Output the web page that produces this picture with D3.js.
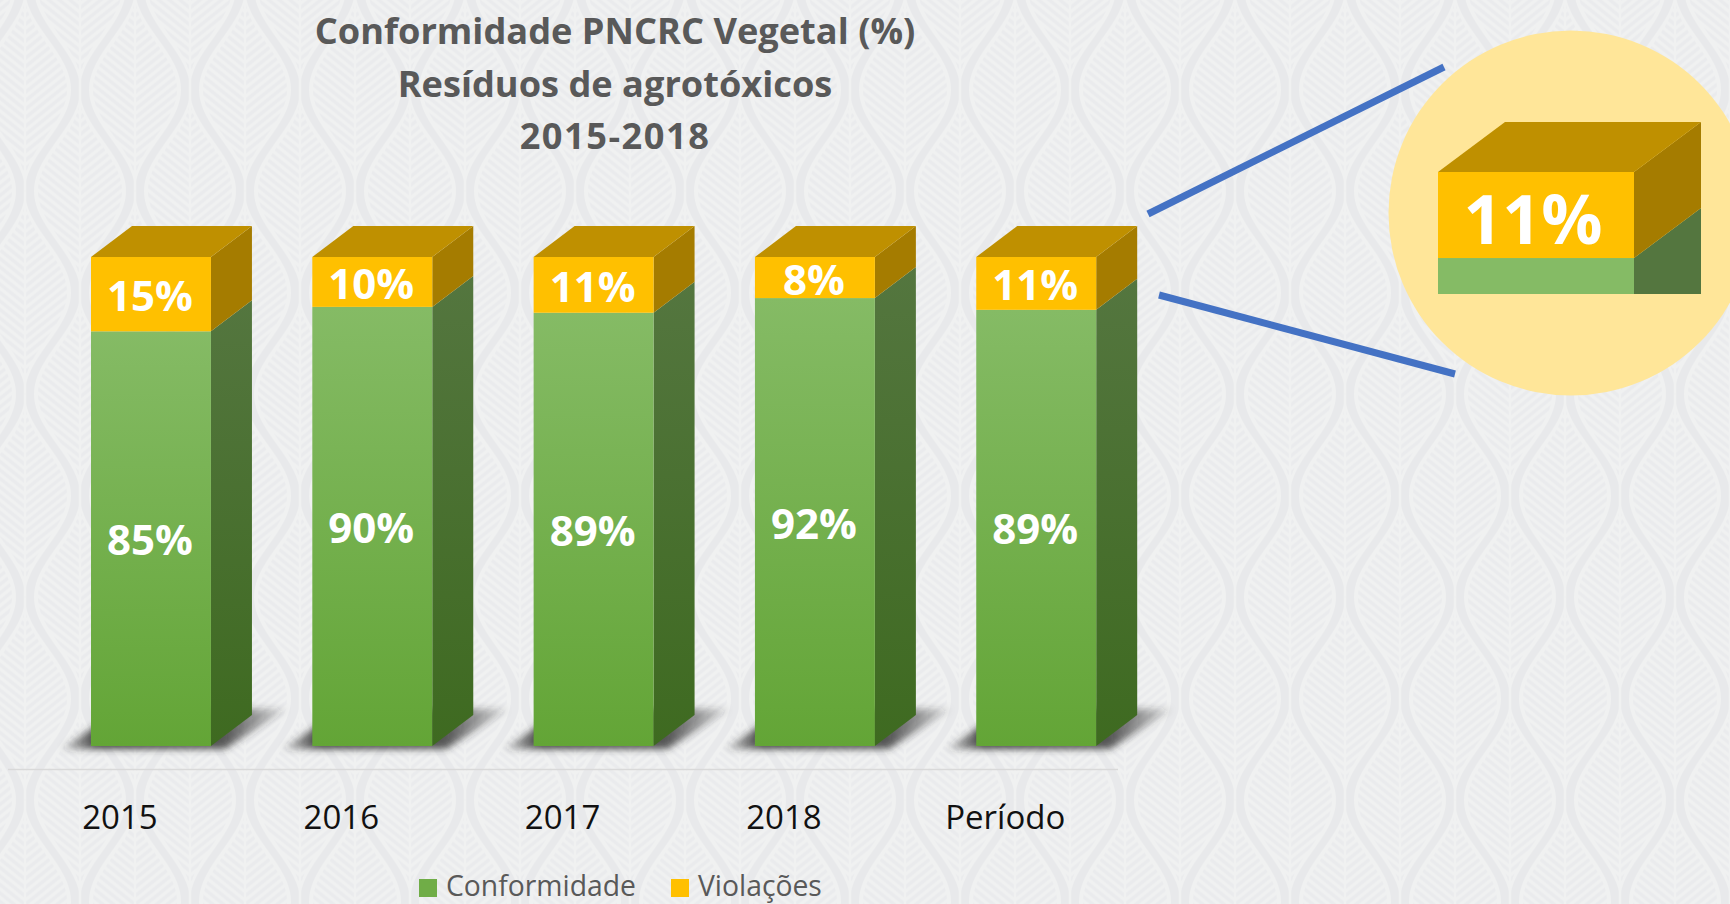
<!DOCTYPE html>
<html>
<head>
<meta charset="utf-8">
<title>Conformidade PNCRC Vegetal</title>
<script src="https://cdn.jsdelivr.net/npm/d3@7"></script>
<style>
  html, body { margin: 0; padding: 0; background: #edeeef; overflow: hidden; }
  svg { display: block; font-family: "Open Sans", sans-serif; }
</style>
</head>
<body>
<div id="chart"></div>
<script>
/*  Data  */
var categories = ["2015", "2016", "2017", "2018", "Período"];
var conformidade = [84.8, 89.8, 88.6, 91.6, 89.2];
var violacoes = [15.2, 10.2, 11.4, 8.4, 10.8];
var titleLines = ["Conformidade PNCRC Vegetal (%)", "Resíduos de agrotóxicos", "2015-2018"];
var legendNames = ["Conformidade", "Violações"];
var detailLabel = "11%";
var detailViolacoes = 11;
var detailConformidade = 4.6;   // only the top of the green part shows in the zoomed box

var W = 1730, H = 904;
var depthX = 41, depthY = 31;
var pct = d3.format(".0%");

var svg = d3.select("#chart").append("svg").attr("width", W).attr("height", H);
var defs = svg.append("defs");

/*  Wallpaper pattern: staggered leaves on a slightly darker ground  */
var tileW = 110, tileH = 203;
var leafLine = d3.line().curve(d3.curveLinear);
function leafOutline(maxW, len) {
  var ys = d3.range(-len, len + 1, 3);
  var right = ys.map(function(v) { return [maxW / 2 * (1 + Math.cos(Math.PI * v / len)), v]; });
  var left = ys.slice().reverse().map(function(v) { return [-maxW / 2 * (1 + Math.cos(Math.PI * v / len)), v]; });
  return leafLine(right.concat(left)) + "Z";
}
var leafPath = leafOutline(46, tileH / 2);
defs.append("clipPath").attr("id", "leafClip").append("path").attr("d", leafOutline(42, tileH / 2 - 8));

var tile = defs.append("pattern")
  .attr("id", "wall")
  .attr("patternUnits", "userSpaceOnUse")
  .attr("width", tileW)
  .attr("height", tileH)
  .attr("patternTransform", "translate(25,89.5)");
tile.append("rect").attr("width", tileW).attr("height", tileH).attr("fill", "#e8e9eb");

function addLeaf(cx, cy) {
  var g = tile.append("g").attr("transform", "translate(" + cx + "," + cy + ")");
  g.append("path").attr("d", leafPath).attr("fill", "#f0f1f1");
  var veins = g.append("g").attr("clip-path", "url(#leafClip)");
  d3.range(-150, 150, 8.5).forEach(function(v) {
    veins.append("path")
      .attr("d", "M-60," + (v - 48) + " L0," + v + " L60," + (v - 48))
      .attr("fill", "none")
      .attr("stroke", "#eaebed")
      .attr("stroke-width", 3.4);
  });
  g.append("line").attr("x1", 0).attr("x2", 0).attr("y1", -tileH / 2).attr("y2", tileH / 2)
    .attr("stroke", "#f0f1f1").attr("stroke-width", 2.5);
}
[[0, 0], [tileW, 0], [0, tileH], [tileW, tileH],
 [tileW / 2, tileH / 2], [tileW / 2, -tileH / 2], [tileW / 2, tileH * 1.5]].forEach(function(p) {
  addLeaf(p[0], p[1]);
});

svg.append("rect").attr("width", W).attr("height", H).attr("fill", "url(#wall)");

/*  Gradients and shadow blur  */
function vGradient(id, from, to) {
  var g = defs.append("linearGradient").attr("id", id)
    .attr("x1", 0).attr("y1", 0).attr("x2", 0).attr("y2", 1);
  g.append("stop").attr("offset", "0%").attr("stop-color", from);
  g.append("stop").attr("offset", "100%").attr("stop-color", to);
}
vGradient("greenFront", "#85bb65", "#63a536");
vGradient("greenSide", "#54763f", "#3e6a20");

var shadowFill = defs.append("linearGradient").attr("id", "shadowFill")
  .attr("x1", 0).attr("y1", 0).attr("x2", 1).attr("y2", 0);
[[0, 0.15], [0.16, 0.9], [0.72, 0.8], [1, 0.1]].forEach(function(s) {
  shadowFill.append("stop").attr("offset", s[0]).attr("stop-color", "#2f2f2f").attr("stop-opacity", s[1]);
});

defs.append("filter").attr("id", "blur")
  .attr("x", "-20%").attr("y", "-40%").attr("width", "140%").attr("height", "180%")
  .append("feGaussianBlur").attr("stdDeviation", 3.6);

/*  Scales  */
var x = d3.scaleBand().domain(categories).range([91, 1096.2]).paddingInner(0.458).paddingOuter(0);
var y = d3.scaleLinear().domain([0, 100]).range([746, 257]);

/*  3D box pieces  */
function sidePoints(x1, yTop, yBottom, dx, dy) {
  return [[x1, yTop], [x1 + dx, yTop - dy], [x1 + dx, yBottom - dy], [x1, yBottom]].join(" ");
}
function topPoints(x0, x1, yTop, dx, dy) {
  return [[x0, yTop], [x0 + dx, yTop - dy], [x1 + dx, yTop - dy], [x1, yTop]].join(" ");
}
function drawBox(g, x0, w, yBase, yMid, yTop, dx, dy) {
  var x1 = x0 + w;
  g.append("polygon").attr("points", sidePoints(x1, yMid, yBase, dx, dy)).attr("fill", "url(#greenSide)");
  g.append("polygon").attr("points", sidePoints(x1, yTop, yMid, dx, dy)).attr("fill", "#a57c00");
  g.append("polygon").attr("points", topPoints(x0, x1, yTop, dx, dy)).attr("fill", "#bf9000");
  g.append("rect").attr("x", x0).attr("y", yMid).attr("width", w).attr("height", yBase - yMid).attr("fill", "url(#greenFront)");
  g.append("rect").attr("x", x0).attr("y", yTop).attr("width", w).attr("height", yMid - yTop).attr("fill", "#ffc000");
}

/*  Bars  */
categories.forEach(function(cat, i) {
  var x0 = x(cat), w = x.bandwidth();
  var g = svg.append("g").attr("class", "bar");

  // floor shadow
  g.append("polygon")
    .attr("points", [[x0 - 30, y(0) + 3], [x0 + w + 14, y(0) + 3], [x0 + w + 76, y(0) - 37], [x0 + 30, y(0) - 37]].join(" "))
    .attr("fill", "url(#shadowFill)")
    .attr("filter", "url(#blur)");

  var yMid = y(conformidade[i]);
  var yTop = y(conformidade[i] + violacoes[i]);
  drawBox(g, x0, w, y(0), yMid, yTop, depthX, depthY);

  g.append("text").attr("x", x0 + w / 2 - 1).attr("y", (yTop + yMid) / 2 + 0.5)
    .attr("text-anchor", "middle").attr("dominant-baseline", "central")
    .attr("fill", "#fff").attr("font-weight", 700).attr("font-size", 42)
    .text(pct(violacoes[i] / 100));
  g.append("text").attr("x", x0 + w / 2 - 1).attr("y", (y(0) + yMid) / 2)
    .attr("text-anchor", "middle").attr("dominant-baseline", "central")
    .attr("fill", "#fff").attr("font-weight", 700).attr("font-size", 42)
    .text(pct(conformidade[i] / 100));
});

/*  Axis: the labels sit left of the front faces, like in the 3D original  */
svg.append("line").attr("x1", 8).attr("x2", 1118).attr("y1", 769.5).attr("y2", 769.5)
  .attr("stroke", "#d9d9d9").attr("stroke-width", 1.5);

var axisG = svg.append("g")
  .attr("transform", "translate(-31,806)")
  .call(d3.axisBottom(x).tickSize(0).tickPadding(0));
axisG.select(".domain").remove();
axisG.selectAll("text")
  .attr("font-family", "'Open Sans', sans-serif")
  .attr("font-size", 33)
  .attr("fill", "#111")
  .attr("y", 0)
  .attr("dy", "0.71em");

/*  Title  */
svg.append("g").selectAll("text").data(titleLines).join("text")
  .attr("x", 615)
  .attr("y", function(d, i) { return 44 + i * 52.5; })
  .attr("text-anchor", "middle")
  .attr("font-weight", 700)
  .attr("font-size", 36.2)
  .attr("letter-spacing", function(d, i) { return i === 2 ? 1.5 : 0; })
  .attr("fill", "#595959")
  .text(function(d) { return d; });

/*  Legend  */
var legendX = d3.scaleOrdinal().domain(legendNames).range([419, 671]);
var legendColor = d3.scaleOrdinal().domain(legendNames).range(["#70ad47", "#ffc000"]);
var legend = svg.append("g").selectAll("g").data(legendNames).join("g")
  .attr("transform", function(d) { return "translate(" + legendX(d) + ",0)"; });
legend.append("rect").attr("y", 879).attr("width", 18).attr("height", 18)
  .attr("fill", function(d) { return legendColor(d); });
legend.append("text").attr("x", 27).attr("y", 895.5)
  .attr("font-size", 28.3).attr("fill", "#595959")
  .text(function(d) { return d; });

/*  Zoomed detail on the right  */
var detail = svg.append("g");
detail.append("circle").attr("cx", 1571).attr("cy", 213).attr("r", 182.5).attr("fill", "#ffe699");

var detailY = d3.scaleLinear().domain([100 - detailViolacoes - detailConformidade, 100]).range([294, 172]);
var detailX0 = 1438, detailW = 196;
drawBox(detail, detailX0, detailW, detailY(100 - detailViolacoes - detailConformidade),
  detailY(100 - detailViolacoes), detailY(100), 67, 50);
detail.selectAll("polygon").filter(function(d, i) { return i === 0; }).attr("fill", "#54763f")
  .attr("points", [[detailX0 + detailW, detailY(100 - detailViolacoes)],
                   [detailX0 + detailW + 67, detailY(100 - detailViolacoes) - 50],
                   [detailX0 + detailW + 67, 294],
                   [detailX0 + detailW, 294]].join(" "));
detail.selectAll("rect").filter(function(d, i) { return i === 0; }).attr("fill", "#85bb65");
detail.append("text").attr("x", detailX0 + detailW / 2 - 3).attr("y", 217)
  .attr("text-anchor", "middle").attr("dominant-baseline", "central")
  .attr("fill", "#fff").attr("font-weight", 700).attr("font-size", 68)
  .text(detailLabel);

/*  Connector lines  */
var connectors = [[1148, 214, 1444, 67], [1159, 295, 1455, 374]];
svg.append("g").selectAll("line").data(connectors).join("line")
  .attr("x1", function(d) { return d[0]; })
  .attr("y1", function(d) { return d[1]; })
  .attr("x2", function(d) { return d[2]; })
  .attr("y2", function(d) { return d[3]; })
  .attr("stroke", "#4472c4")
  .attr("stroke-width", 7);
</script>
</body>
</html>
